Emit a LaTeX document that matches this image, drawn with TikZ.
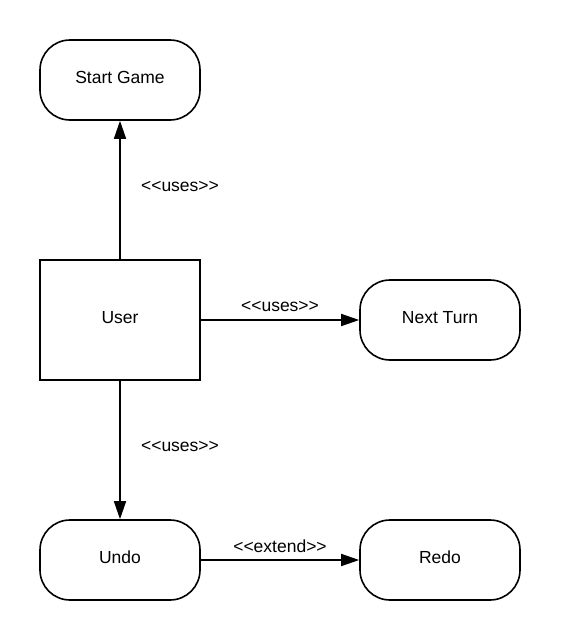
\documentclass[tikz,border=0pt]{standalone}
\usepackage{fontspec}
\setmainfont{Liberation Sans}
\usetikzlibrary{arrows.meta}
\begin{document}
\begin{tikzpicture}[x=1pt,y=-1pt,
  usecase/.style={draw, line width=1.6pt, rounded corners=30pt, minimum width=160pt, minimum height=80pt, inner sep=0pt},
  actor/.style={draw, line width=1.6pt, minimum width=160pt, minimum height=120pt, inner sep=0pt},
  txt/.style={font=\fontsize{17.5}{20}\selectfont, inner sep=0pt},
  conn/.style={line width=1.6pt, -{Triangle[length=18pt,width=12pt]}},
  lbl/.style={font=\fontsize{17.5}{20}\selectfont, inner sep=0pt}]
\useasboundingbox (0,0) rectangle (560,640);
\node[usecase] (start) at (120,80) {};
\node[actor] (user) at (120,320) {};
\node[usecase] (next) at (440,320) {};
\node[usecase] (undo) at (120,560) {};
\node[usecase] (redo) at (440,560) {};
\node[txt] (tstart) at (120,77.5) {Start Game};
\node[txt] (tuser) at (120,317.5) {User};
\node[txt] (tnext) at (440,317.5) {Next Turn};
\node[txt] (tundo) at (120,557.5) {Undo};
\node[txt] (tredo) at (440,557.5) {Redo};
\draw[conn] (user) -- (start);
\draw[conn] (user) -- (next);
\draw[conn] (user) -- (undo);
\draw[conn] (undo) -- (redo);
\node[lbl] (l1) at (180,186) {<{}<uses>{}>};
\node[lbl] (l2) at (280,306) {<{}<uses>{}>};
\node[lbl] (l3) at (180,446) {<{}<uses>{}>};
\node[lbl] (l4) at (280,546) {<{}<extend>{}>};
\end{tikzpicture}
\end{document}
